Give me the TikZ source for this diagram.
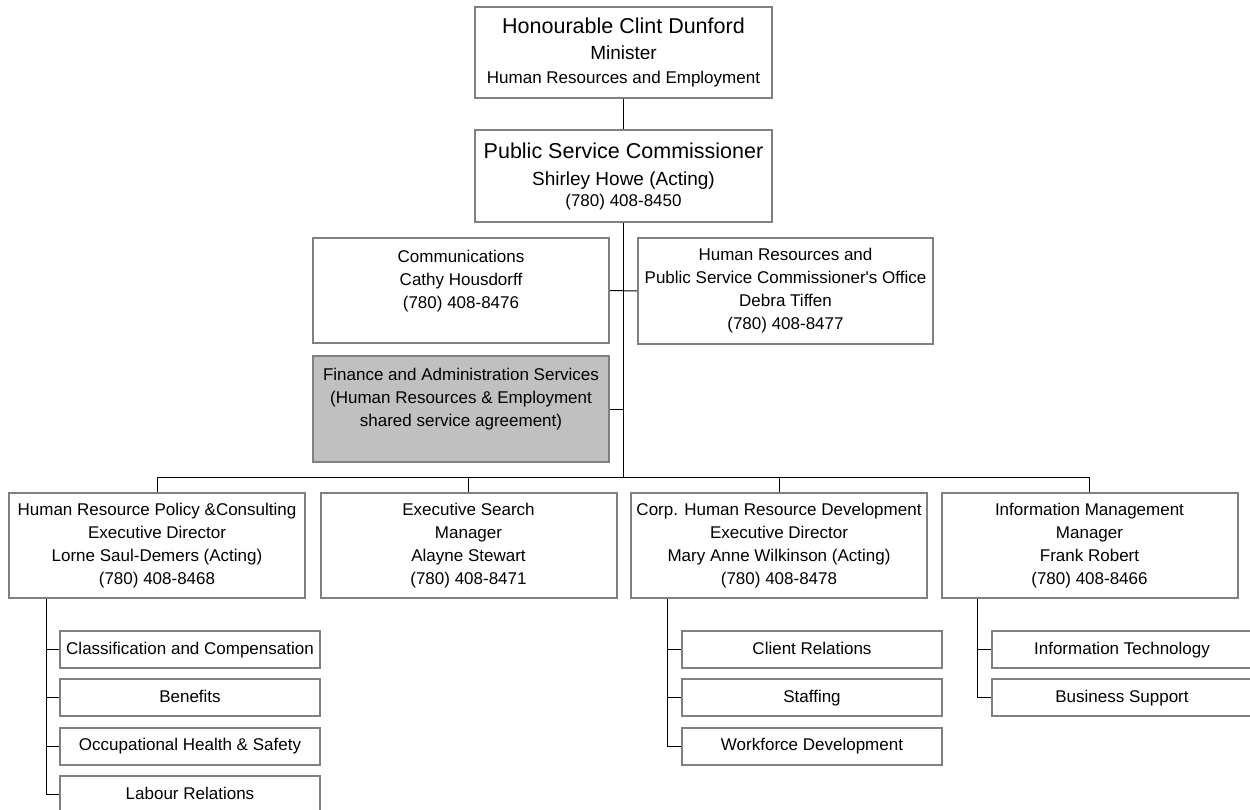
\documentclass[tikz,border=0pt]{standalone}
\usepackage{fontspec}
\setmainfont{Liberation Sans}
\definecolor{boxline}{HTML}{808080}
\definecolor{finfill}{HTML}{C0C0C0}
\tikzset{
  unit/.style={draw=boxline, line width=2pt, minimum width=296pt, minimum height=105pt, align=center, inner sep=2pt},
  subunit/.style={draw=boxline, line width=2pt, minimum width=260pt, minimum height=37pt, inner sep=2pt, text height=12.5pt, text depth=3.5pt},
  link/.style={draw=black, line width=1pt},
}

\begin{document}
\begin{tikzpicture}[x=1pt, y=-1pt, font=\fontsize{17}{23}\selectfont]
\useasboundingbox (0,0) rectangle (1250,810);
% top of the chart
\node (min) at (623.5,52.5) [unit, minimum width=297pt, minimum height=91pt]
  {{\fontsize{21.5}{25}\selectfont Honourable Clint Dunford}\\[3pt]{\fontsize{19}{25}\selectfont Minister}\\[1pt]Human Resources and Employment};
\node (psc) at (623.5,176) [unit, minimum width=297pt, minimum height=92pt]
  {{\fontsize{21.5}{25}\selectfont Public Service Commissioner}\\[4pt]{\fontsize{19}{25}\selectfont Shirley Howe (Acting)}\\[-2pt](780) 408-8450};
\node (cmm) at (461,290.5) [unit] {Communications\\Cathy Housdorff\\(780) 408-8476\\~};
\node (hro) at (785.5,291) [unit, minimum width=295pt, minimum height=106pt] {Human Resources and\\Public Service Commissioner\textquotesingle s Office\\Debra Tiffen\\(780) 408-8477};
\node (fin) at (461,409) [unit, fill=finfill, minimum height=106pt] {Finance and Administration Services\\(Human Resources \& Employment\\shared service agreement)\\~};
% branches
\node (hrp) at (157,545.5) [unit] {Human Resource Policy \&Consulting\\Executive Director\\Lorne Saul-Demers (Acting)\\(780) 408-8468};
\node (exs) at (468.5,545.5) [unit] {Executive Search\\Manager\\Alayne Stewart\\(780) 408-8471};
\node (crd) at (779,545.5) [unit] {Corp. Human Resource Development\\Executive Director\\Mary Anne Wilkinson (Acting)\\(780) 408-8478};
\node (inf) at (1089.5,545.5) [unit] {Information Management\\Manager\\Frank Robert\\(780) 408-8466};
\coordinate (bus) at (623.5,477);
\draw[link] (min) -- (psc);
\draw[link] (psc.south) -- (bus);
\draw[link] (cmm.east) -- (hro.west);
\draw[link] (fin.east) -- (fin.east -| bus);
\foreach \b in {hrp,exs,crd,inf} \draw[link] (bus) -| (\b.north);
% sections
\foreach \y/\nm/\txt in {649.5/cls/Classification and Compensation, 697.5/ben/Benefits, 746/ohs/Occupational Health \& Safety, 794.5/lab/Labour Relations} {
  \node (\nm) at (190,\y) [subunit] {\txt};
  \draw[link] ([xshift=38pt]hrp.south west) |- (\nm.west);
}
\foreach \y/\nm/\txt in {649.5/cli/Client Relations, 697.5/stf/Staffing, 746/wfd/Workforce Development} {
  \node (\nm) at (812,\y) [subunit] {\txt};
  \draw[link] ([xshift=37pt]crd.south west) |- (\nm.west);
}
\foreach \y/\nm/\txt in {649.5/itc/Information Technology, 697.5/bsp/Business Support} {
  \node (\nm) at (1122,\y) [subunit] {\txt};
  \draw[link] ([xshift=37pt]inf.south west) |- (\nm.west);
}
\end{tikzpicture}
\end{document}
